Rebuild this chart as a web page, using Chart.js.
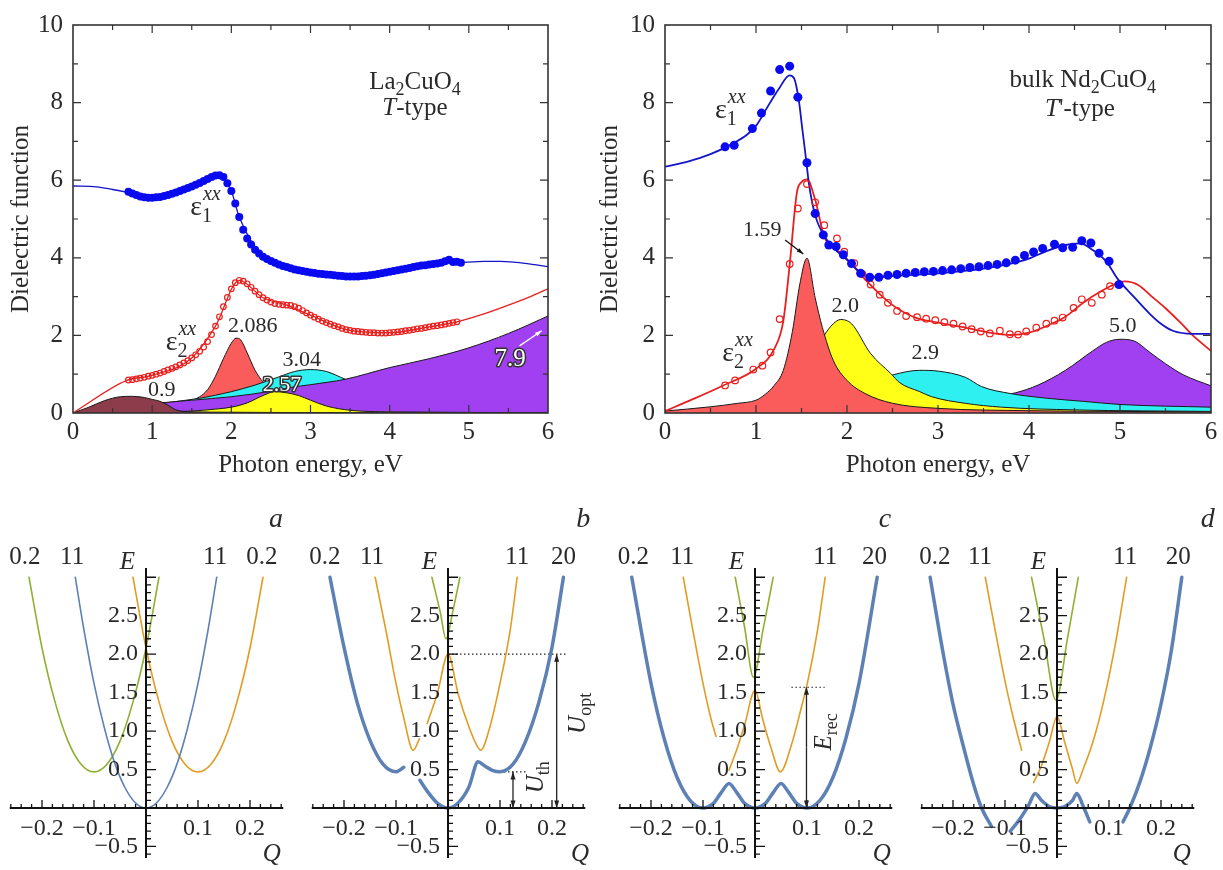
<!DOCTYPE html>
<html>
<head>
<meta charset="utf-8">
<title>Dielectric function and adiabatic potentials</title>
<script src="https://cdn.jsdelivr.net/npm/chart.js@4.4.1/dist/chart.umd.min.js"></script>
<style>
  body { margin: 0; background: #fff; }
  #fig { position: relative; width: 1223px; height: 870px; overflow: hidden; background: #fff; }
  #fig canvas { position: absolute; }
</style>
</head>
<body>
<div id="fig">
  <canvas id="la" width="595" height="480" style="left:0;top:0"></canvas>
  <canvas id="nd" width="628" height="480" style="left:595px;top:0"></canvas>
  <canvas id="pa" width="305" height="390" style="left:0;top:480px"></canvas>
  <canvas id="pb" width="305" height="390" style="left:305px;top:480px"></canvas>
  <canvas id="pc" width="305" height="390" style="left:610px;top:480px"></canvas>
  <canvas id="pd" width="308" height="390" style="left:915px;top:480px"></canvas>
</div>
<script>
// ---- La2CuO4, T-type: [photon energy eV, value] ----
const laEps1Pts = [[0.70,5.70],[0.75,5.66],[0.80,5.62],[0.85,5.58],[0.90,5.56],[0.95,5.55],[1.00,5.55],[1.05,5.56],[1.10,5.57],[1.15,5.59],
  [1.20,5.62],[1.25,5.65],[1.30,5.68],[1.35,5.72],[1.40,5.76],[1.45,5.80],[1.50,5.84],[1.55,5.88],[1.60,5.93],[1.65,5.98],
  [1.70,6.03],[1.75,6.08],[1.80,6.12],[1.85,6.13],[1.90,6.08],[1.95,5.92],[2.00,5.72],[2.05,5.40],[2.10,5.05],[2.15,4.72],
  [2.20,4.50],[2.25,4.34],[2.30,4.21],[2.35,4.11],[2.40,4.03],[2.45,3.97],[2.50,3.92],[2.55,3.87],[2.60,3.83],[2.65,3.79],
  [2.70,3.76],[2.75,3.73],[2.80,3.70],[2.85,3.68],[2.90,3.66],[2.95,3.64],[3.00,3.62],[3.05,3.61],[3.10,3.59],[3.15,3.58],
  [3.20,3.57],[3.25,3.56],[3.30,3.55],[3.35,3.54],[3.40,3.53],[3.45,3.52],[3.50,3.52],[3.55,3.52],[3.60,3.52],[3.65,3.53],
  [3.70,3.54],[3.75,3.55],[3.80,3.56],[3.85,3.58],[3.90,3.60],[3.95,3.62],[4.00,3.64],[4.05,3.66],[4.10,3.68],[4.15,3.70],
  [4.20,3.72],[4.25,3.74],[4.30,3.76],[4.35,3.78],[4.40,3.80],[4.45,3.81],[4.50,3.83],[4.55,3.84],[4.60,3.85],[4.65,3.87],
  [4.70,3.91],[4.75,3.95],[4.80,3.89],[4.85,3.90],[4.90,3.87]];
const laEps1Fit = [[0,5.85],[0.3,5.83],[0.5,5.76],[0.7,5.68],[1.0,5.55],[1.5,5.84],[1.85,6.12],[2.0,5.72],[2.1,5.05],[2.4,4.03],
  [3.0,3.62],[3.5,3.52],[4.0,3.64],[4.5,3.83],[4.9,3.88],[5.2,3.91],[5.4,3.91],[5.6,3.88],[5.8,3.83],[6.0,3.77]];
const laEps2Pts = [[0.70,0.85],[0.75,0.86],[0.80,0.88],[0.85,0.90],[0.90,0.92],[0.95,0.95],[1.00,0.97],[1.05,1.00],[1.10,1.03],[1.15,1.07],
  [1.20,1.11],[1.25,1.15],[1.30,1.19],[1.35,1.24],[1.40,1.29],[1.45,1.35],[1.50,1.42],[1.55,1.50],[1.60,1.59],[1.65,1.70],
  [1.70,1.84],[1.75,2.02],[1.80,2.24],[1.85,2.48],[1.90,2.74],[1.95,2.98],[2.00,3.20],[2.05,3.36],[2.10,3.42],[2.15,3.40],
  [2.20,3.33],[2.25,3.24],[2.30,3.14],[2.35,3.05],[2.40,2.97],[2.45,2.91],[2.50,2.86],[2.55,2.82],[2.60,2.80],[2.65,2.79],
  [2.70,2.78],[2.75,2.77],[2.80,2.74],[2.85,2.70],[2.90,2.64],[2.95,2.58],[3.00,2.52],[3.05,2.47],[3.10,2.42],[3.15,2.37],
  [3.20,2.33],[3.25,2.29],[3.30,2.25],[3.35,2.22],[3.40,2.18],[3.45,2.15],[3.50,2.13],[3.55,2.11],[3.60,2.10],[3.65,2.09],
  [3.70,2.08],[3.75,2.07],[3.80,2.07],[3.85,2.06],[3.90,2.06],[3.95,2.06],[4.00,2.07],[4.05,2.08],[4.10,2.09],[4.15,2.10],
  [4.20,2.12],[4.25,2.13],[4.30,2.15],[4.35,2.17],[4.40,2.18],[4.45,2.20],[4.50,2.22],[4.55,2.24],[4.60,2.25],[4.65,2.27],
  [4.70,2.29],[4.75,2.31],[4.80,2.33],[4.85,2.35]];
const laEps2Fit = [[0,0],[0.68,0.84],[1.0,0.97],[1.5,1.42],[1.8,2.24],[2.1,3.42],[2.4,2.97],[2.7,2.78],[3.0,2.52],[3.5,2.13],
  [4.0,2.07],[4.5,2.22],[4.85,2.35],[5.2,2.56],[5.5,2.78],[5.8,3.02],[6.0,3.2]];
const laBrown  = [[0,0],[0.2,0.15],[0.4,0.32],[0.6,0.42],[0.75,0.43],[0.9,0.40],[1.0,0.35],[1.1,0.30],[1.2,0.20],[1.3,0.08],[1.5,0.03],[2.0,0.02],[3.0,0.01],[6.0,0.01]];
const laYellow = [[0,0],[1.0,0.02],[1.5,0.05],[1.8,0.10],[2.0,0.15],[2.2,0.26],[2.4,0.45],[2.55,0.55],[2.7,0.52],[2.85,0.45],[3.0,0.33],[3.2,0.18],[3.5,0.07],[4.0,0.03],[6.0,0.01]];
const laPurple = [[0,0.01],[0.5,0.13],[1.0,0.24],[1.5,0.33],[2.0,0.42],[2.5,0.56],[2.75,0.66],[3.0,0.73],[3.44,0.87],[4.0,1.17],[4.5,1.40],[5.0,1.68],[5.5,2.05],[6.0,2.5]];
const laCyan   = [[0,0.01],[0.6,0.10],[1.2,0.27],[1.6,0.38],[2.0,0.55],[2.3,0.72],[2.6,0.93],[2.8,1.07],[3.0,1.12],[3.2,1.07],[3.44,0.87],[3.7,0.68],[4.0,0.50],[5.0,0.25],[6.0,0.15]];
const laRed    = [[1.0,0.10],[1.4,0.25],[1.6,0.42],[1.7,0.60],[1.8,0.95],[1.9,1.40],[2.0,1.80],[2.06,1.93],[2.12,1.88],[2.2,1.55],[2.3,1.10],[2.4,0.80],[2.5,0.60],[2.7,0.40],[3.0,0.25]];

// ---- bulk Nd2CuO4, T'-type ----
const ndEps1Pts = [[0.66,6.86],[0.76,6.90],[0.96,7.33],[1.06,7.73],[1.16,8.30],[1.26,8.85],[1.37,8.94],[1.46,8.14],[1.56,6.45],[1.65,5.14],
  [1.74,4.59],[1.80,4.33],[1.88,4.29],[1.96,4.08],[2.05,3.85],[2.15,3.60],[2.25,3.50],[2.35,3.50],[2.45,3.55],[2.55,3.57],
  [2.65,3.60],[2.75,3.62],[2.85,3.64],[2.95,3.65],[3.05,3.67],[3.15,3.69],[3.25,3.72],[3.35,3.75],[3.45,3.77],[3.55,3.80],
  [3.65,3.83],[3.75,3.87],[3.85,3.94],[3.95,4.06],[4.05,4.15],[4.15,4.24],[4.28,4.35],[4.37,4.26],[4.48,4.27],[4.58,4.44],
  [4.68,4.38],[4.77,4.12],[4.88,3.91],[4.99,3.31]];
const ndEps1Fit = [[0,6.35],[0.25,6.48],[0.5,6.67],[0.75,6.95],[0.9,7.17],[1.0,7.4],[1.15,7.98],[1.25,8.35],[1.37,8.7],[1.42,8.62],
  [1.47,8.07],[1.51,7.3],[1.55,6.54],[1.58,5.94],[1.65,5.1],[1.78,4.46],[2.0,3.95],[2.18,3.57],[2.3,3.5],[2.5,3.53],
  [3.0,3.6],[3.5,3.72],[3.8,3.85],[4.0,3.98],[4.2,4.18],[4.4,4.33],[4.56,4.37],[4.7,4.2],[4.85,3.9],[4.97,3.47],
  [5.15,3.0],[5.33,2.55],[5.45,2.3],[5.58,2.12],[5.8,2.04],[6.0,2.04]];
const ndEps2Pts = [[0.66,0.71],[0.77,0.84],[0.97,1.12],[1.07,1.22],[1.16,1.56],[1.26,2.42],[1.37,3.84],[1.46,5.27],[1.56,5.90],[1.65,5.43],
  [1.75,4.84],[1.89,4.50],[1.97,4.16],[2.08,3.86],[2.17,3.58],[2.26,3.31],[2.36,3.05],[2.45,2.84],[2.55,2.63],[2.65,2.50],
  [2.77,2.47],[2.87,2.43],[2.97,2.39],[3.07,2.34],[3.17,2.30],[3.27,2.23],[3.37,2.16],[3.47,2.10],[3.57,2.05],[3.68,2.12],
  [3.79,2.03],[3.88,2.02],[3.97,2.10],[4.08,2.20],[4.19,2.30],[4.28,2.38],[4.37,2.46],[4.49,2.71],[4.58,2.93],[4.69,2.84],
  [4.80,3.05],[4.89,3.27],[4.98,3.31]];
const ndEps2Fit = [[0,0.05],[0.3,0.35],[0.64,0.71],[1.0,1.14],[1.2,1.65],[1.3,2.37],[1.37,3.82],[1.45,5.69],[1.5,5.95],[1.56,6.02],
  [1.65,5.5],[1.75,4.54],[1.87,4.25],[1.99,3.99],[2.2,3.44],[2.49,2.8],[2.76,2.45],[3.0,2.33],[3.3,2.2],[3.6,2.06],
  [3.8,2.01],[4.0,2.07],[4.2,2.25],[4.4,2.48],[4.6,2.85],[4.8,3.15],[4.95,3.33],[5.05,3.39],[5.2,3.3],[5.35,3.0],
  [5.5,2.7],[5.66,2.34],[5.8,2.0],[6.0,1.6]];
const ndRed    = [[0,0.05],[0.5,0.16],[0.8,0.25],[1.0,0.33],[1.1,0.48],[1.2,0.71],[1.3,1.10],[1.4,2.10],[1.48,3.30],[1.56,3.99],
  [1.65,2.97],[1.73,2.20],[1.85,1.35],[2.0,0.84],[2.2,0.50],[2.5,0.25],[3.0,0.12],[4.0,0.06],[5.0,0.04],[6.0,0.03]];
const ndYellow = [[0,0.02],[1.0,0.20],[1.4,0.70],[1.6,1.30],[1.75,2.00],[1.85,2.30],[1.93,2.41],[2.05,2.30],[2.26,1.53],[2.48,1.02],
  [2.58,0.78],[2.8,0.55],[2.93,0.42],[3.3,0.25],[3.7,0.15],[4.5,0.08],[6.0,0.04]];
const ndCyan   = [[0,0.02],[1.0,0.15],[2.0,0.50],[2.3,0.82],[2.5,0.98],[2.8,1.10],[3.0,1.08],[3.3,0.92],[3.48,0.68],[3.8,0.50],
  [4.2,0.38],[4.6,0.30],[5.0,0.22],[6.0,0.15]];
const ndPurple = [[0,0.02],[1.0,0.05],[2.0,0.12],[3.0,0.25],[3.5,0.38],[3.85,0.52],[4.1,0.72],[4.4,1.10],[4.7,1.60],[4.85,1.82],
  [5.0,1.90],[5.15,1.86],[5.33,1.56],[5.5,1.27],[5.7,0.98],[6.0,0.70]];

// ---- adiabatic potentials E(Q), panels a-d (null = break in the curve) ----
const aBlue   = [[-0.136,3.0],[-0.12,2.34],[-0.10,1.62],[-0.08,1.04],[-0.06,0.58],[-0.04,0.26],[-0.02,0.065],[0,0],[0.02,0.065],[0.04,0.26],[0.06,0.58],[0.08,1.04],[0.10,1.62],[0.12,2.34],[0.136,3.0]];
const aOrange = [[-0.025,3.0],[0,2.08],[0.025,1.38],[0.05,0.87],[0.075,0.57],[0.1,0.47],[0.125,0.57],[0.15,0.87],[0.175,1.38],[0.2,2.08],[0.225,3.0]];
const aGreen  = [[-0.225,3.0],[-0.2,2.08],[-0.175,1.38],[-0.15,0.87],[-0.125,0.57],[-0.1,0.47],[-0.075,0.57],[-0.05,0.87],[-0.025,1.38],[0,2.08],[0.025,3.0]];
const bBlue   = [[-0.227,3.0],[-0.2,2.09],[-0.175,1.38],[-0.15,0.88],[-0.125,0.57],[-0.1,0.47],[-0.085,0.53],[-0.07,null],[-0.054,0.36],[-0.04,0.22],[-0.02,0.06],[0,0],
  [0.02,0.07],[0.04,0.27],[0.058,0.6],[0.07,0.55],[0.085,0.49],[0.1,0.47],[0.125,0.57],[0.15,0.88],[0.175,1.38],[0.2,2.09],[0.222,3.0]];
const bOrange = [[-0.14,3.0],[-0.12,2.33],[-0.1,1.62],[-0.085,1.17],[-0.067,0.75],[-0.055,0.9],[-0.048,null],[-0.04,1.1],[-0.02,1.5],[0,2.0],
  [0.02,1.47],[0.04,1.06],[0.055,0.82],[0.063,0.75],[0.08,1.04],[0.1,1.62],[0.12,2.33],[0.133,3.0]];
const bGreen  = [[-0.031,3.0],[-0.015,2.55],[-0.004,2.2],[0.01,2.58],[0.023,3.0]];
const cBlue   = [[-0.237,3.0],[-0.2,1.62],[-0.175,0.91],[-0.15,0.4],[-0.125,0.1],[-0.1,0],[-0.08,0.06],[-0.065,0.2],[-0.05,0.32],[-0.035,0.2],[-0.02,0.06],[0,0],
  [0.02,0.06],[0.035,0.2],[0.05,0.32],[0.065,0.2],[0.08,0.06],[0.1,0],[0.125,0.1],[0.15,0.4],[0.175,0.91],[0.2,1.62],[0.235,3.0]];
const cOrange = [[-0.138,3.0],[-0.12,2.33],[-0.1,1.62],[-0.085,1.17],[-0.075,0.93],[-0.07,null],[-0.065,0.7],[-0.058,null],[-0.05,0.49],[-0.035,0.76],[-0.02,1.08],[0,1.53],
  [0.015,1.15],[0.03,0.8],[0.049,0.47],[0.07,0.82],[0.09,1.33],[0.1,1.6],[0.12,2.3],[0.135,3.0]];
const cGreen  = [[-0.038,3.0],[-0.02,2.35],[-0.003,1.7],[0.015,2.3],[0.035,3.0]];
const dBlue   = [[-0.244,3.0],[-0.22,2.05],[-0.2,1.35],[-0.18,0.8],[-0.16,0.3],[-0.145,0],[-0.126,-0.24],[-0.11,null],[-0.09,-0.3],[-0.08,-0.22],[-0.068,-0.11],
  [-0.055,0.03],[-0.042,0.19],[-0.03,0.1],[-0.015,0.02],[0,0],[0.015,0.02],[0.03,0.1],[0.038,0.19],[0.05,0.03],[0.063,-0.18],[0.09,null],
  [0.127,-0.18],[0.14,0],[0.16,0.35],[0.18,0.8],[0.2,1.35],[0.22,2.05],[0.24,3.0]];
const dOrange = [[-0.138,3.0],[-0.12,2.35],[-0.1,1.65],[-0.085,1.2],[-0.068,0.75],[-0.055,null],[-0.045,0.33],[-0.03,0.55],[-0.015,0.85],[0,1.19],
  [0.015,0.85],[0.03,0.5],[0.038,0.32],[0.05,0.5],[0.07,0.88],[0.09,1.4],[0.11,2.05],[0.134,3.0]];
const dGreen  = [[-0.049,3.0],[-0.025,2.2],[-0.002,1.4],[0.02,2.2],[0.041,3.0]];

const U_TH = 0.47, U_OPT = 2.0, E_REC = 1.57;
const bOptLevel = [[0, U_OPT], [0.229, U_OPT]];
const bThLevel = [[0.1, U_TH], [0.152, U_TH]];
const cRecLevel = [[0.07, E_REC], [0.134, E_REC]];

const qTickLabels = [-0.2, -0.1, 0.1, 0.2];
const eTickLabels = [-0.5, 0.5, 1.0, 1.5, 2.0, 2.5];

// ---- styling ----
const SERIF = "'Liberation Serif','Times New Roman',serif";
const INK = '#2a2a2a';
const BLUE = '#0a0af0', BLUE_LINE = '#1414c8', RED = '#e8201e';
const C_RED = '#fa5c5c', C_CYAN = '#2ef0f0', C_YELLOW = '#ffff18', C_PURPLE = '#a040f0', C_BROWN = '#8c3c4a';
const M_BLUE = '#5e81b5', M_ORANGE = '#e19c24', M_GREEN = '#8fb032';

const xy = pts => pts.map(([x, y]) => ({ x, y }));

function lineSet(pts, color, width, order, extra) {
  return Object.assign({ data: xy(pts), showLine: true, borderColor: color, borderWidth: width, pointRadius: 0,
    cubicInterpolationMode: 'monotone', fill: false, order }, extra || {});
}
function bandSet(pts, color, order) {
  return lineSet(pts, '#1a1a1a', 1, order, { fill: 'origin', backgroundColor: color });
}
function markSet(pts, color, radius, open, order) {
  return { data: xy(pts), showLine: false, pointRadius: radius, pointHoverRadius: radius,
    pointBorderWidth: open ? 1.2 : 0, pointBackgroundColor: open ? 'rgba(255,255,255,0)' : color,
    pointBorderColor: color, order };
}

// text helpers
function txt(ctx, s, x, y, size, opt) {
  opt = opt || {};
  ctx.font = (opt.italic ? 'italic ' : '') + size + 'px ' + SERIF;
  ctx.textAlign = opt.align || 'center';
  ctx.textBaseline = 'middle';
  if (opt.outline) {
    ctx.lineJoin = 'round'; ctx.lineWidth = 3; ctx.strokeStyle = '#333';
    ctx.strokeText(s, x, y);
    ctx.fillStyle = '#fff';
  } else {
    ctx.fillStyle = opt.color || INK;
  }
  ctx.fillText(s, x, y);
}
function rich(ctx, parts, x, y, size) {
  const small = Math.round(size * 0.72);
  const fontOf = p => (p[1] === 'i' ? 'italic ' : '') + (p[1] === 'sub' ? small : size) + 'px ' + SERIF;
  let w = 0;
  parts.forEach(p => { ctx.font = fontOf(p); w += ctx.measureText(p[0]).width; });
  let cx = x - w / 2;
  const base = y + size * 0.33;
  ctx.fillStyle = INK; ctx.textAlign = 'left'; ctx.textBaseline = 'alphabetic';
  parts.forEach(p => {
    ctx.font = fontOf(p);
    ctx.fillText(p[0], cx, base + (p[1] === 'sub' ? size * 0.24 : 0));
    cx += ctx.measureText(p[0]).width;
  });
}
function eps(ctx, idx, x, y) {
  ctx.fillStyle = INK; ctx.textAlign = 'left'; ctx.textBaseline = 'middle';
  ctx.font = '28px ' + SERIF; ctx.fillText('ε', x, y);
  const w = ctx.measureText('ε').width;
  ctx.font = 'italic 20px ' + SERIF; ctx.fillText('xx', x + w + 1, y - 13);
  ctx.font = '20px ' + SERIF; ctx.fillText(idx, x + w, y + 9);
}
function arrow(ctx, x1, y1, x2, y2, color, head) {
  ctx.strokeStyle = color; ctx.fillStyle = color; ctx.lineWidth = 1.3;
  ctx.beginPath(); ctx.moveTo(x1, y1); ctx.lineTo(x2, y2); ctx.stroke();
  const a = Math.atan2(y2 - y1, x2 - x1);
  ctx.beginPath(); ctx.moveTo(x2, y2);
  ctx.lineTo(x2 - head * Math.cos(a - 0.32), y2 - head * Math.sin(a - 0.32));
  ctx.lineTo(x2 - head * Math.cos(a + 0.32), y2 - head * Math.sin(a + 0.32));
  ctx.closePath(); ctx.fill();
}

// frame with inward ticks for the dielectric-function panels
const boxTicks = {
  id: 'boxTicks',
  afterDatasetsDraw(chart) {
    const { ctx, chartArea: a, scales: { x, y } } = chart;
    ctx.save();
    ctx.strokeStyle = '#333'; ctx.lineWidth = 1.6;
    ctx.strokeRect(a.left, a.top, a.right - a.left, a.bottom - a.top);
    ctx.lineWidth = 1.2; ctx.beginPath();
    for (let k = 1; k < 12; k++) {
      const px = x.getPixelForValue(k / 2), len = k % 2 ? 5 : 8;
      ctx.moveTo(px, a.bottom); ctx.lineTo(px, a.bottom - len);
      ctx.moveTo(px, a.top); ctx.lineTo(px, a.top + len);
    }
    for (let k = 1; k < 10; k++) {
      const py = y.getPixelForValue(k), len = k % 2 ? 5 : 8;
      ctx.moveTo(a.left, py); ctx.lineTo(a.left + len, py);
      ctx.moveTo(a.right, py); ctx.lineTo(a.right - len, py);
    }
    ctx.stroke(); ctx.restore();
  }
};

function dielChart(id, yWidth, titlePad, padRight, sets, notes) {
  const font = { family: SERIF, size: 25 };
  return new Chart(document.getElementById(id), {
    type: 'scatter',
    data: { datasets: sets },
    options: {
      responsive: false, animation: false,
      layout: { padding: { left: 0, right: padRight, top: 21, bottom: 0 } },
      plugins: { legend: { display: false }, tooltip: { enabled: false } },
      scales: {
        x: {
          type: 'linear', min: 0, max: 6, afterFit: s => { s.height = 67; },
          ticks: { stepSize: 1, padding: 4, color: INK, font, maxRotation: 0 },
          grid: { display: false, drawTicks: false }, border: { display: false },
          title: { display: true, text: 'Photon energy, eV', color: INK, font, padding: { top: 0, bottom: 0 } }
        },
        y: {
          type: 'linear', min: 0, max: 10, afterFit: s => { s.width = yWidth; },
          ticks: { stepSize: 2, padding: 10, color: INK, font },
          grid: { display: false, drawTicks: false }, border: { display: false },
          title: { display: true, text: 'Dielectric function', color: INK, font, padding: { top: titlePad, bottom: 0 } }
        }
      }
    },
    plugins: [boxTicks, notes]
  });
}

const laNotes = {
  id: 'laNotes',
  afterDraw(chart) {
    const ctx = chart.ctx, sx = chart.scales.x, sy = chart.scales.y;
    const P = (e, v) => [sx.getPixelForValue(e), sy.getPixelForValue(v)];
    ctx.save();
    let p = P(4.32, 8.57); rich(ctx, [['La'], ['2', 'sub'], ['CuO'], ['4', 'sub']], p[0], p[1], 25);
    p = P(4.32, 7.9); rich(ctx, [['T', 'i'], ['-type']], p[0], p[1], 25);
    p = P(1.48, 5.3); eps(ctx, '1', p[0], p[1]);
    p = P(1.17, 1.81); eps(ctx, '2', p[0], p[1]);
    p = P(1.12, 0.59); txt(ctx, '0.9', p[0], p[1], 22);
    p = P(2.27, 2.24); txt(ctx, '2.086', p[0], p[1], 22);
    p = P(2.89, 1.35); txt(ctx, '3.04', p[0], p[1], 22);
    p = P(2.64, 0.71); txt(ctx, '2.57', p[0], p[1], 22, { outline: true });
    p = P(5.52, 1.38); txt(ctx, '7.9', p[0], p[1], 25, { outline: true });
    const a0 = P(5.64, 1.73), a1 = P(5.92, 2.12);
    arrow(ctx, a0[0], a0[1], a1[0], a1[1], '#fff', 7);
    ctx.restore();
  }
};

const ndNotes = {
  id: 'ndNotes',
  afterDraw(chart) {
    const ctx = chart.ctx, sx = chart.scales.x, sy = chart.scales.y;
    const P = (e, v) => [sx.getPixelForValue(e), sy.getPixelForValue(v)];
    ctx.save();
    let p = P(4.59, 8.62); rich(ctx, [['bulk Nd'], ['2', 'sub'], ['CuO'], ['4', 'sub']], p[0], p[1], 25);
    p = P(4.56, 7.86); rich(ctx, [['T', 'i'], ["'-type"]], p[0], p[1], 25);
    p = P(0.55, 7.8); eps(ctx, '1', p[0], p[1]);
    p = P(0.63, 1.53); eps(ctx, '2', p[0], p[1]);
    p = P(1.07, 4.72); txt(ctx, '1.59', p[0], p[1], 22);
    p = P(1.98, 2.76); txt(ctx, '2.0', p[0], p[1], 22);
    p = P(2.86, 1.53); txt(ctx, '2.9', p[0], p[1], 22);
    p = P(5.03, 2.24); txt(ctx, '5.0', p[0], p[1], 22);
    const a0 = P(1.32, 4.46), a1 = P(1.52, 4.1);
    arrow(ctx, a0[0], a0[1], a1[0], a1[1], '#111', 7);
    ctx.restore();
  }
};

dielChart('la', 73, 6, 47, [
  markSet(laEps1Pts, BLUE, 4, false, 0),
  markSet(laEps2Pts, RED, 2.8, true, 0),
  lineSet(laEps1Fit, BLUE_LINE, 1.3, 1),
  lineSet(laEps2Fit, RED, 1.3, 1),
  bandSet(laBrown, C_BROWN, 2),
  bandSet(laYellow, C_YELLOW, 3),
  bandSet(laPurple, C_PURPLE, 4),
  bandSet(laCyan, C_CYAN, 5),
  bandSet(laRed, C_RED, 6)
], laNotes);

dielChart('nd', 70, 0, 12, [
  markSet(ndEps1Pts, BLUE, 4.5, false, 0),
  markSet(ndEps2Pts, RED, 3.3, true, 0),
  lineSet(ndEps1Fit, BLUE_LINE, 1.8, 1),
  lineSet(ndEps2Fit, RED, 1.8, 1),
  bandSet(ndRed, C_RED, 2),
  bandSet(ndYellow, C_YELLOW, 3),
  bandSet(ndCyan, C_CYAN, 4),
  bandSet(ndPurple, C_PURPLE, 5)
], ndNotes);

// ---- bottom panels: axes crossing at the origin ----
const Q_MIN = -0.262, Q_MAX = 0.264, E_MIN = -0.65, E_MAX = 3.12, Q_PX = 520;
const panelCfg = {
  pa: { axisX: 146, letter: 'a', qLabel: 0.242, tops: [['0.2', -0.233], ['11', -0.142], ['11', 0.133], ['0.2', 0.223]], letterQ: 0.25 },
  pb: { axisX: 143, letter: 'b', qLabel: 0.254, tops: [['0.2', -0.237], ['11', -0.146], ['11', 0.133], ['20', 0.222]], letterQ: 0.26,
        arrows: [[0.125, 0, U_TH], [0.209, 0, U_OPT]], rot: [['U', 'th', 0.167, 0.4], ['U', 'opt', 0.247, 1.23]] },
  pc: { axisX: 145, letter: 'c', qLabel: 0.244, tops: [['0.2', -0.234], ['11', -0.14], ['11', 0.135], ['20', 0.23]], letterQ: 0.25,
        arrows: [[0.099, 0, E_REC]], rot: [['E', 'rec', 0.131, 0.99]] },
  pd: { axisX: 142, letter: 'd', qLabel: 0.24, tops: [['0.2', -0.235], ['11', -0.148], ['11', 0.131], ['20', 0.233]], letterQ: 0.29 }
};

const fmt = v => (v < 0 ? '\u2212' : '') + Math.abs(v).toFixed(1);

const crossAxes = {
  id: 'crossAxes',
  afterDatasetsDraw(chart) {
    const cfg = panelCfg[chart.canvas.id];
    const { ctx, chartArea: a, scales: { x, y } } = chart;
    const x0 = x.getPixelForValue(0), y0 = y.getPixelForValue(0);
    ctx.save();
    ctx.strokeStyle = '#111'; ctx.lineWidth = 2;
    ctx.beginPath();
    ctx.moveTo(a.left, y0); ctx.lineTo(a.right, y0);
    ctx.moveTo(x0, a.top); ctx.lineTo(x0, a.bottom);
    ctx.stroke();
    ctx.lineWidth = 1.3; ctx.beginPath();
    for (let k = -13; k <= 13; k++) {
      if (!k) continue;
      const px = x.getPixelForValue(k * 0.02);
      ctx.moveTo(px, y0); ctx.lineTo(px, y0 - (k % 5 ? 4 : 8));
    }
    for (let k = -6; k <= 30; k++) {
      if (!k) continue;
      const py = y.getPixelForValue(k / 10);
      ctx.moveTo(x0, py); ctx.lineTo(x0 + (k % 5 ? 5 : 10), py);
    }
    ctx.stroke();
    qTickLabels.forEach(q => txt(ctx, fmt(q), x.getPixelForValue(q), y0 + 21, 24));
    eTickLabels.forEach(e => txt(ctx, fmt(e), x0 - 8, y.getPixelForValue(e), 24, { align: 'right' }));
    const topY = y.getPixelForValue(3.26);
    cfg.tops.forEach(t => txt(ctx, t[0], x.getPixelForValue(t[1]), topY, 25));
    txt(ctx, 'E', x.getPixelForValue(-0.036), y.getPixelForValue(3.19), 25, { italic: true });
    txt(ctx, 'Q', x.getPixelForValue(cfg.qLabel), y.getPixelForValue(-0.6), 25, { italic: true });
    txt(ctx, cfg.letter, x.getPixelForValue(cfg.letterQ), y.getPixelForValue(3.75), 28, { italic: true });
    (cfg.arrows || []).forEach(ar => {
      const px = x.getPixelForValue(ar[0]), p0 = y.getPixelForValue(ar[1]), p1 = y.getPixelForValue(ar[2]);
      const mid = (p0 + p1) / 2;
      arrow(ctx, px, mid, px, p1, '#222', 8);
      arrow(ctx, px, mid, px, p0, '#222', 8);
    });
    (cfg.rot || []).forEach(r => {
      ctx.save();
      ctx.translate(x.getPixelForValue(r[2]), y.getPixelForValue(r[3]));
      ctx.rotate(-Math.PI / 2);
      rich(ctx, [[r[0], 'i'], [r[1], 'sub']], 0, 0, 25);
      ctx.restore();
    });
    ctx.restore();
  }
};

const qLine = (pts, color, w) => ({ data: xy(pts), showLine: true, borderColor: color, borderWidth: w, pointRadius: 0,
  cubicInterpolationMode: 'monotone', borderCapStyle: 'round', spanGaps: false });
const dotted = pts => ({ data: xy(pts), showLine: true, borderColor: '#222', borderWidth: 1.2, borderDash: [1.5, 2.5], pointRadius: 0 });

function potentialChart(id, sets) {
  const c = document.getElementById(id), cfg = panelCfg[id];
  return new Chart(c, {
    type: 'scatter',
    data: { datasets: sets },
    options: {
      responsive: false, animation: false,
      layout: { padding: { left: cfg.axisX + Q_MIN * Q_PX, right: c.width - cfg.axisX - Q_MAX * Q_PX, top: 88, bottom: 12 } },
      plugins: { legend: { display: false }, tooltip: { enabled: false } },
      scales: {
        x: { type: 'linear', display: false, min: Q_MIN, max: Q_MAX },
        y: { type: 'linear', display: false, min: E_MIN, max: E_MAX }
      }
    },
    plugins: [crossAxes]
  });
}

potentialChart('pa', [qLine(aBlue, M_BLUE, 1.6), qLine(aOrange, M_ORANGE, 1.6), qLine(aGreen, M_GREEN, 1.6)]);
potentialChart('pb', [qLine(bBlue, M_BLUE, 3.5), qLine(bOrange, M_ORANGE, 1.6), qLine(bGreen, M_GREEN, 1.6), dotted(bOptLevel), dotted(bThLevel)]);
potentialChart('pc', [qLine(cBlue, M_BLUE, 3.5), qLine(cOrange, M_ORANGE, 1.6), qLine(cGreen, M_GREEN, 1.6), dotted(cRecLevel)]);
potentialChart('pd', [qLine(dBlue, M_BLUE, 3.5), qLine(dOrange, M_ORANGE, 1.6), qLine(dGreen, M_GREEN, 1.6)]);
</script>
</body>
</html>
